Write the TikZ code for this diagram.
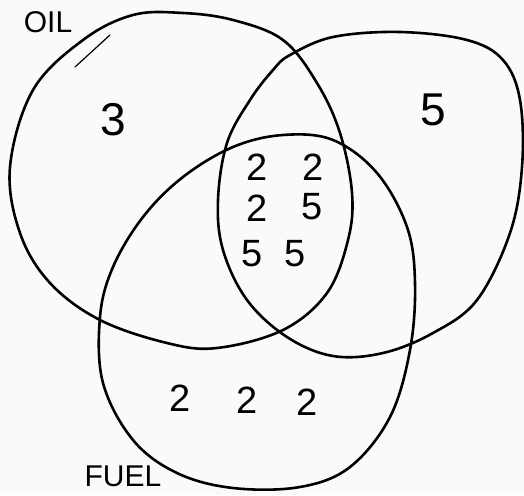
\documentclass[tikz,border=0pt]{standalone}
\usepackage{fontspec}
\setmainfont{Liberation Sans}
\begin{document}
\begin{tikzpicture}[x=1pt,y=-1pt,
  setline/.style={line width=2.6pt, line join=round, line cap=round, black},
  num/.style={font=\fontsize{38}{38}\selectfont, inner sep=0pt},
  bignum/.style={font=\fontsize{46}{46}\selectfont, inner sep=0pt},
  lbl/.style={font=\fontsize{30}{30}\selectfont, inner sep=0pt}]
\fill[white!96!gray] (0,0) rectangle (524,495);
\useasboundingbox (0,0) rectangle (524,495);
% OIL set
\draw[setline] plot[smooth cycle, tension=0.6] coordinates {
 (133,15) (83,40) (33,90) (10,167) (20,233) (50,283) (100,320) (167,343)
 (217,348) (283,330) (327,293) (348,240) (352,193) (340,133) (317,83)
 (283,40) (233,20) (183,13)};
% right set
\draw[setline] plot[smooth cycle, tension=0.6] coordinates {
 (290,55) (333,37) (400,32) (467,40) (503,60) (520,100) (522,167) (510,233)
 (477,300) (433,333) (383,353) (333,356) (287,337) (247,300) (223,250)
 (218,200) (227,143) (250,100) (273,70)};
% FUEL set
\draw[setline] plot[smooth cycle, tension=0.6] coordinates {
 (283,135) (333,140) (377,173) (407,227) (415,283) (410,350) (390,417)
 (350,467) (300,487) (233,488) (177,473) (133,440) (103,383) (100,317)
 (113,267) (143,217) (183,177) (233,147)};
% stray stroke
\coordinate (s1) at (75,67);
\coordinate (s2) at (110,35);
\draw[line width=1.2pt, line cap=round] (s1) -- (s2);
% labels
\node[lbl] (oil) at (48,22) {OIL};
\node[lbl] (fuel) at (123,476) {FUEL};
% numbers
\node[bignum] (n1) at (113,120) {3};
\node[bignum] (n2) at (433,110) {5};
\node[num] (c1) at (257,167) {2};
\node[num] (c2) at (313,167) {2};
\node[num] (c3) at (257,208) {2};
\node[num] (c4) at (312,207) {5};
\node[num] (c5) at (252,254) {5};
\node[num] (c6) at (295,254) {5};
\node[num] (b1) at (180,398) {2};
\node[num] (b2) at (247,400) {2};
\node[num] (b3) at (307,402) {2};
\end{tikzpicture}
\end{document}
